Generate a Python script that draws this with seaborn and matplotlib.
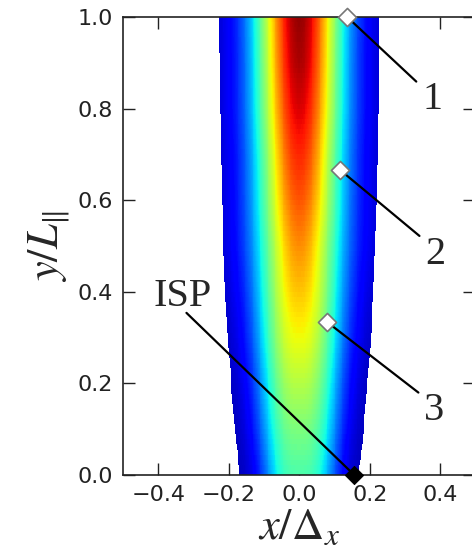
import numpy as np
import pandas as pd
import matplotlib
matplotlib.use("Agg")
import matplotlib.pyplot as plt
import seaborn as sns

# Profile parameters of the heated channel at sampled heights y/L
y_levels = [0.0, 0.1, 0.2, 0.3, 0.4, 0.5, 0.6, 0.7, 0.8, 0.9, 1.0]
half_width = [0.168, 0.183, 0.193, 0.203, 0.210, 0.215, 0.219, 0.222, 0.224, 0.226, 0.227]
peak_value = [0.44, 0.50, 0.57, 0.64, 0.70, 0.76, 0.82, 0.87, 0.92, 0.96, 0.98]
spread = [0.62, 0.61, 0.60, 0.59, 0.58, 0.57, 0.56, 0.55, 0.55, 0.54, 0.54]
flatness = [3.0, 2.8, 2.6, 2.4, 2.2, 2.0, 2.0, 2.0, 2.0, 2.0, 2.0]
edge_value = 0.05

# Marked points and their labels
point_names = ["1", "2", "3"]
point_x = [0.136, 0.116, 0.079]
point_y = [1.0, 0.666, 0.334]
label_x = [0.377, 0.386, 0.383]
label_y = [0.819, 0.482, 0.140]
isp_x, isp_y = 0.156, 0.0
isp_label_x, isp_label_y = -0.33, 0.389

sns.set_style("ticks")
plt.rcParams.update({
    "xtick.direction": "in", "ytick.direction": "in",
    "xtick.top": True, "ytick.right": True,
    "xtick.major.size": 8.5, "ytick.major.size": 8.5,
    "xtick.major.width": 1.0, "ytick.major.width": 1.0,
    "axes.linewidth": 1.2, "axes.edgecolor": "#222222",
    "mathtext.fontset": "stix",
})
plt.rcParams["font.family"] = ["DejaVu Sans"]

fig = plt.figure(figsize=(4.72, 5.58), dpi=100)
ax = fig.add_axes([123 / 472, 1 - 475 / 558, 352.5 / 472, 458 / 558])

# Field on a display grid built from the sampled profiles
ny, nx = 90, 400
yy = np.linspace(0, 1, ny + 1)
xx = np.linspace(-0.5, 0.5, nx + 1)
yc = 0.5 * (yy[:-1] + yy[1:])
xc = 0.5 * (xx[:-1] + xx[1:])
hw = np.interp(yc, y_levels, half_width)
pk = np.interp(yc, y_levels, peak_value)
sp = np.interp(yc, y_levels, spread) * hw
pw = np.interp(yc, y_levels, flatness)
X, _ = np.meshgrid(xc, yc)
field = edge_value + (pk[:, None] - edge_value) * np.exp(
    -np.abs(X / sp[:, None]) ** pw[:, None])
field = np.ma.masked_where(np.abs(X) > hw[:, None], field)
ax.pcolormesh(xx, yy, field, cmap="jet", vmin=0, vmax=1, shading="flat",
              rasterized=True, zorder=1)

# Leader lines
for px, py, lx, ly in zip(point_x, point_y, label_x, label_y):
    ax.plot([px, lx - 0.045], [py, ly + 0.04], color="black", lw=1.6,
            zorder=3, clip_on=False)
ax.plot([isp_x, isp_label_x + 0.01], [isp_y, isp_label_y - 0.035], color="black",
        lw=1.6, zorder=3, clip_on=False)

pts = pd.DataFrame({"x": point_x, "y": point_y})
sns.scatterplot(data=pts, x="x", y="y", marker="D", s=85, color="white",
                edgecolor="#777777", linewidth=1.2, ax=ax, zorder=5, clip_on=False)
sns.scatterplot(x=[isp_x], y=[isp_y], marker="D", s=85, color="black",
                edgecolor="black", ax=ax, zorder=5, clip_on=False)

for name, lx, ly in zip(point_names, label_x, label_y):
    ax.text(lx, ly, name, fontsize=29, family="Liberation Serif",
            ha="center", va="center", zorder=6)
ax.text(isp_label_x, isp_label_y, "ISP", fontsize=29, family="Liberation Serif",
        ha="center", va="center", zorder=6)

ax.set_xlim(-0.5, 0.5)
ax.set_ylim(0, 1)
ax.set_xticks([-0.4, -0.2, 0.0, 0.2, 0.4])
ax.set_yticks([0.0, 0.2, 0.4, 0.6, 0.8, 1.0])
ax.tick_params(labelsize=16, pad=7, colors="#222222")
ax.set_xlabel(r"$x/\Delta_x$", fontsize=32, labelpad=0)
ax.set_ylabel(r"$y/L_{\|}$", fontsize=32, labelpad=4)

fig.savefig("out.png", dpi=100)
